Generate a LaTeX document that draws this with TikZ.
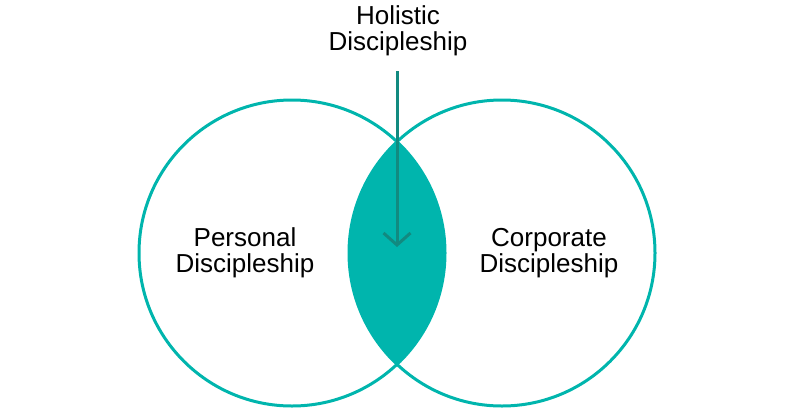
\documentclass[tikz,border=0pt]{standalone}
\usepackage{fontspec}
\setmainfont{Liberation Sans}
\usetikzlibrary{arrows.meta}
\definecolor{teal1}{HTML}{00B5AD}
\definecolor{teal2}{HTML}{128A80}
\tikzset{
  ring/.style={draw=teal1, line width=3pt},
  label/.style={align=center, font=\fontsize{26}{25.5}\selectfont, text=black, inner sep=0pt},
  pointer/.style={draw=teal2, line width=3pt, -{Straight Barb[length=12pt, width=27pt]}}
}
\begin{document}
\begin{tikzpicture}[x=1pt, y=-1pt]
\useasboundingbox (0,0) rectangle (800,413);
\coordinate (cl) at (292,253);
\coordinate (cr) at (502,253);
\begin{scope}
  \clip (cl) circle (153);
  \fill[teal1] (cr) circle (153);
\end{scope}
\draw[ring] (cl) circle (153);
\draw[ring] (cr) circle (153);
\node[label] (personal) at (245,253) {Personal\\Discipleship};
\node[label] (corporate) at (549,253) {Corporate\\Discipleship};
\node[label] (holistic) at (398,31) {Holistic\\Discipleship};
\coordinate (astart) at (397,71);
\coordinate (tip) at (397,247);
\draw[pointer] (astart) -- (tip);
\end{tikzpicture}
\end{document}
